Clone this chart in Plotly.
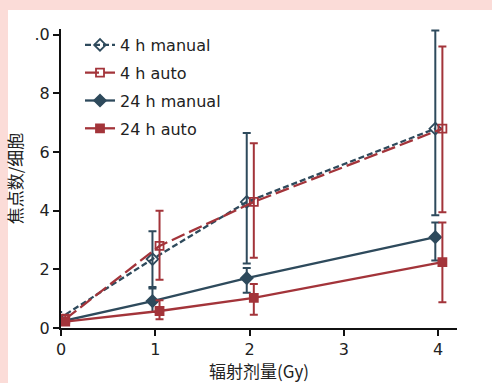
import plotly.graph_objects as go

# ---- data ----
doses = [0, 1, 2, 4]
series_names = ["4 h manual", "4 h auto", "24 h manual", "24 h auto"]

m4_mean = [0.30, 2.35, 4.30, 6.80]
m4_hi = [0.55, 3.30, 6.65, 10.15]
m4_lo = [0.10, 1.40, 2.20, 3.85]

a4_mean = [0.30, 2.80, 4.30, 6.80]
a4_hi = [0.45, 4.00, 6.30, 9.60]
a4_lo = [0.15, 1.65, 2.40, 3.95]

m24_mean = [0.20, 0.92, 1.70, 3.10]
m24_hi = [0.30, 1.35, 2.05, 3.60]
m24_lo = [0.10, 0.55, 1.20, 2.30]

a24_mean = [0.22, 0.58, 1.03, 2.25]
a24_hi = [0.35, 0.95, 1.50, 3.60]
a24_lo = [0.10, 0.30, 0.45, 0.88]

y_tickvals = [0, 2, 4, 6, 8, 10]
y_ticktext = ["0", "2", "4", "6", "8", ".0"]
x_tickvals = [0, 1, 2, 3, 4]

BLUE = "#2e4a5c"
RED = "#a3343a"

specs = [
    (series_names[0], m4_mean, m4_hi, m4_lo, BLUE, "6px,3px", "diamond-open", 9, -0.03),
    (series_names[1], a4_mean, a4_hi, a4_lo, RED, "14px,5px", "square-open", 8, 0.045),
    (series_names[2], m24_mean, m24_hi, m24_lo, BLUE, "solid", "diamond", 9, -0.03),
    (series_names[3], a24_mean, a24_hi, a24_lo, RED, "solid", "square", 8, 0.045),
]

fig = go.Figure()
for i, (name, mean, hi, lo, col, dash, sym, msize, off) in enumerate(specs):
    fig.add_trace(go.Scatter(
        x=[d + off for d in doses],
        y=mean,
        name=name,
        legendgroup=f"g{i}",
        mode="lines+markers",
        line=dict(color=col, width=2.3, dash=dash),
        marker=dict(symbol=sym, size=msize, color=col,
                    line=dict(color=col, width=1.8)),
        error_y=dict(type="data", symmetric=False,
                     array=[h - m for h, m in zip(hi, mean)],
                     arrayminus=[m - l for m, l in zip(mean, lo)],
                     color=col, thickness=2, width=4),
        cliponaxis=False,
    ))

L, R, T, B = 61, 35, 29, 55
W, H = 492, 383
pw, ph = W - L - R, H - T - B

def px2x(px):
    return (px - L) / pw

def py2y(py):
    return (H - B - py) / ph

fig.update_layout(
    width=W, height=H,
    margin=dict(l=L, r=R, t=T, b=B, autoexpand=False),
    paper_bgcolor="white",
    plot_bgcolor="white",
    font=dict(family="DejaVu Sans", size=15, color="#222222"),
    showlegend=True,
    legend=dict(
        x=px2x(80), y=py2y(28), xanchor="left", yanchor="top",
        bgcolor="rgba(0,0,0,0)",
        font=dict(family="DejaVu Sans", size=16, color="#222222"),
        tracegroupgap=4,
        itemwidth=30,
    ),
    xaxis=dict(
        range=[0, 4.2],
        tickvals=x_tickvals,
        ticks="outside", ticklen=6, tickwidth=2, tickcolor="#111",
        showline=True, linecolor="#111", linewidth=2,
        showgrid=False, zeroline=False, automargin=False,
        tickfont=dict(family="DejaVu Sans", size=16, color="#222"),
        title=dict(text="辐射剂量(Gy)", standoff=8,
                   font=dict(family="Noto Sans CJK SC", size=17, color="#222")),
    ),
    yaxis=dict(
        range=[0, 10.2],
        tickvals=y_tickvals, ticktext=y_ticktext,
        ticks="outside", ticklen=6, tickwidth=2, tickcolor="#111",
        showline=True, linecolor="#111", linewidth=2,
        showgrid=False, zeroline=False, automargin=False,
        tickfont=dict(family="DejaVu Sans", size=16, color="#222"),
        title=dict(text="焦点数/细胞", standoff=8,
                   font=dict(family="Noto Sans CJK SC", size=17, color="#222")),
    ),
    shapes=[
        dict(type="rect", xref="paper", yref="paper", layer="below",
             x0=px2x(0), x1=px2x(W), y0=py2y(0), y1=py2y(10),
             fillcolor="#fbdcd8", line=dict(width=0)),
        dict(type="rect", xref="paper", yref="paper", layer="below",
             x0=px2x(0), x1=px2x(8), y0=py2y(0), y1=py2y(H),
             fillcolor="#fbdcd8", line=dict(width=0)),
    ],
)

fig.write_html("out.html")
